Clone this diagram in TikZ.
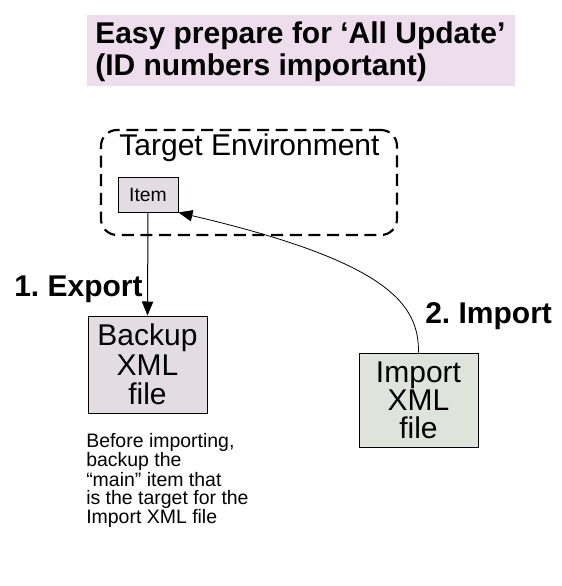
\documentclass[tikz,border=0pt]{standalone}
\usepackage{fontspec}
\setmainfont{Liberation Sans}
\usetikzlibrary{arrows.meta}
\definecolor{titlebg}{HTML}{EDDDED}
\definecolor{pinkbox}{HTML}{E3DDE3}
\definecolor{greenbox}{HTML}{DEE3DC}
\begin{document}
\frenchspacing
\begin{tikzpicture}[x=0.75pt,y=-0.75pt,
  filebox/.style={draw=black, line width=0.75pt, inner sep=0pt, align=center,
    font=\fontsize{22.5pt}{22pt}\selectfont, minimum width=89.25pt},
  boldlbl/.style={font=\bfseries\fontsize{22.5pt}{24pt}\selectfont, inner sep=0pt, anchor=base west},
  note/.style={font=\fontsize{14.6pt}{13.5pt}\selectfont, inner sep=0pt, align=left, anchor=north west},
  tip/.style={-{Triangle[length=10.5pt,width=8.5pt]}}
]
\useasboundingbox (0,0) rectangle (561,586);
% title band
\node[fill=titlebg, inner sep=0pt, minimum width=321pt, minimum height=53.25pt] (band) at (301,50.5) {};
\node[boldlbl] (t1) at (95,43) {Easy prepare for ‘All Update’};
\node[boldlbl] (t2) at (95,75) {(ID numbers important)};
% target environment
\node[draw=black, line width=1.6pt, dash pattern=on 9pt off 5pt, rounded corners=12pt,
  minimum width=222pt, minimum height=78.75pt, inner sep=0pt] (env) at (249,182.5) {};
\node[font=\fontsize{22.5pt}{24pt}\selectfont, inner sep=0pt, anchor=base] (envlbl) at (249.5,155) {Target Environment};
\node[draw=black, line width=0.75pt, fill=pinkbox, minimum width=45pt, minimum height=26.25pt,
  inner sep=0pt, font=\fontsize{14.5pt}{15pt}\selectfont] (item) at (148,194.5) {Item};
% files
\node[filebox, fill=pinkbox, minimum height=72.75pt] (backup) at (147.5,364.5) {Backup\\XML\\file};
\node[filebox, fill=greenbox, minimum height=70.5pt, font=\fontsize{22.5pt}{21pt}\selectfont] (import) at (418.5,400) {Import\\XML\\file};
% labels
\node[boldlbl] (exp) at (14,296) {1. Export};
\node[boldlbl] (imp) at (425,323) {2. Import};
\node[note] (notetxt) at (86,433) {Before importing,\\backup the\\“main” item that\\is the target for the\\Import XML file};
% connectors
\draw[tip, line width=0.75pt] (item.south) -- (backup.north);
\draw[tip, line width=0.6pt] (import.north) .. controls (419,305) and (390,262) .. (item.south east);
\end{tikzpicture}
\end{document}
